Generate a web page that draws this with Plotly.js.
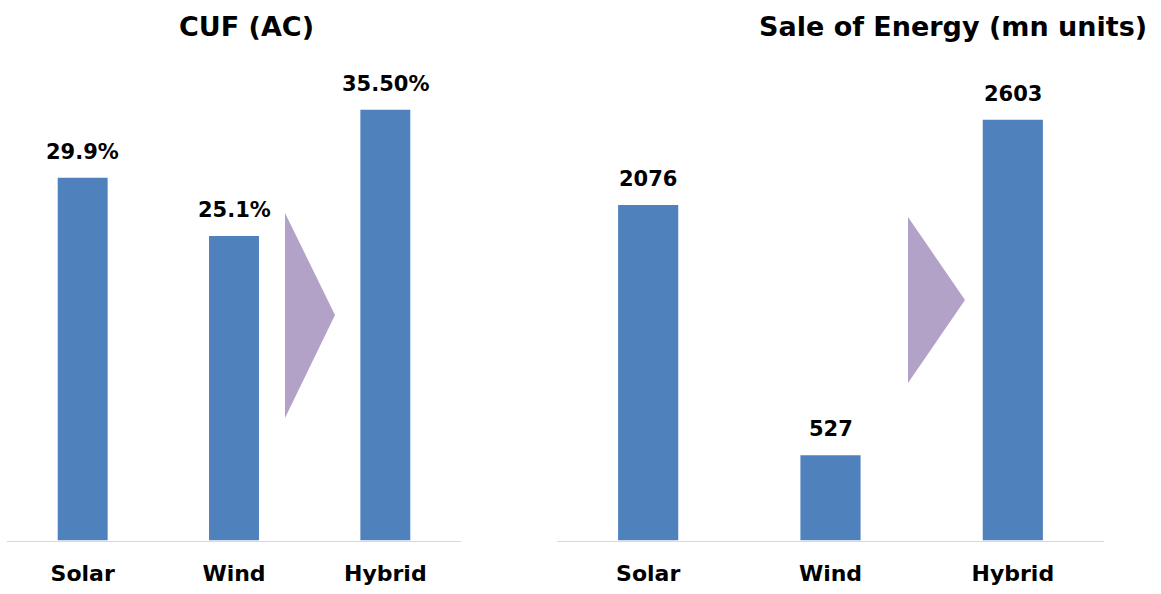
<!DOCTYPE html>
<html>
<head>
<meta charset="utf-8">
<script src="https://cdn.plot.ly/plotly-3.0.1.min.js"></script>
<style>html,body{margin:0;padding:0;background:#fff;}#chart{width:1161px;height:594px;}</style>
</head>
<body>
<div id="chart"></div>
<script>
const categories = ["Solar", "Wind", "Hybrid"];
const cufValues = [29.9, 25.1, 35.5];
const cufLabels = ["29.9%", "25.1%", "35.50%"];
const saleValues = [2076, 527, 2603];
const saleLabels = ["2076", "527", "2603"];
const titles = ["CUF (AC)", "Sale of Energy (mn units)"];

const W = 1161, H = 594;
const FONT = "DejaVu Sans, sans-serif";
const barColor = "#4f81bd";
const arrowColor = "#b3a2c7";

const px = v => v / W;
const py = v => 1 - v / H;

const traces = [
  {type: "bar", x: categories, y: cufValues, xaxis: "x", yaxis: "y",
   marker: {color: barColor}, hoverinfo: "none"},
  {type: "bar", x: categories, y: saleValues, xaxis: "x2", yaxis: "y2",
   marker: {color: barColor}, hoverinfo: "none"}
];

const annotations = [];
cufValues.forEach((v, i) => annotations.push({
  xref: "x", yref: "y", x: categories[i], y: v, text: "<b>" + cufLabels[i] + "</b>",
  showarrow: false, yanchor: "bottom", yshift: 12,
  font: {family: FONT, size: 21, color: "#000"}
}));
saleValues.forEach((v, i) => annotations.push({
  xref: "x2", yref: "y2", x: categories[i], y: v, text: "<b>" + saleLabels[i] + "</b>",
  showarrow: false, yanchor: "bottom", yshift: 12,
  font: {family: FONT, size: 21, color: "#000"}
}));
annotations.push({xref: "paper", yref: "paper", x: px(247), y: py(27), text: "<b>" + titles[0] + "</b>",
  showarrow: false, xanchor: "center", yanchor: "middle", font: {family: FONT, size: 27, color: "#000"}});
annotations.push({xref: "paper", yref: "paper", x: px(953), y: py(27), text: "<b>" + titles[1] + "</b>",
  showarrow: false, xanchor: "center", yanchor: "middle", font: {family: FONT, size: 27, color: "#000"}});

function tri(x0, x1, yt, yb, ym) {
  return `M ${px(x0)} ${py(yt)} L ${px(x1)} ${py(ym)} L ${px(x0)} ${py(yb)} Z`;
}

const axisCommon = {
  type: "category", showgrid: false, zeroline: false, showline: true,
  linecolor: "#d9d9d9", linewidth: 1.5, ticks: "",
  tickfont: {family: FONT, size: 22, color: "#000", weight: "bold"},
  ticklabelstandoff: 13, fixedrange: true
};
const yBottom = 53.5 / H, yTop = (H - 60) / H;

const layout = {
  width: W, height: H,
  margin: {l: 0, r: 0, t: 0, b: 0},
  paper_bgcolor: "#fff", plot_bgcolor: "#fff",
  showlegend: false, bargap: 0.67,
  xaxis: Object.assign({}, axisCommon, {domain: [px(7), px(461)], anchor: "y"}),
  xaxis2: Object.assign({}, axisCommon, {domain: [px(557), px(1104)], anchor: "y2"}),
  yaxis: {domain: [yBottom, yTop], range: [0, 39.6], visible: false, fixedrange: true, anchor: "x"},
  yaxis2: {domain: [yBottom, yTop], range: [0, 2973], visible: false, fixedrange: true, anchor: "x2"},
  annotations: annotations,
  shapes: [
    {type: "path", xref: "paper", yref: "paper", path: tri(285, 335, 213, 418, 315),
     fillcolor: arrowColor, line: {width: 0}, layer: "below"},
    {type: "path", xref: "paper", yref: "paper", path: tri(908, 965, 217, 383, 300),
     fillcolor: arrowColor, line: {width: 0}, layer: "below"}
  ]
};

Plotly.newPlot("chart", traces, layout, {staticPlot: true, displayModeBar: false});
</script>
</body>
</html>
